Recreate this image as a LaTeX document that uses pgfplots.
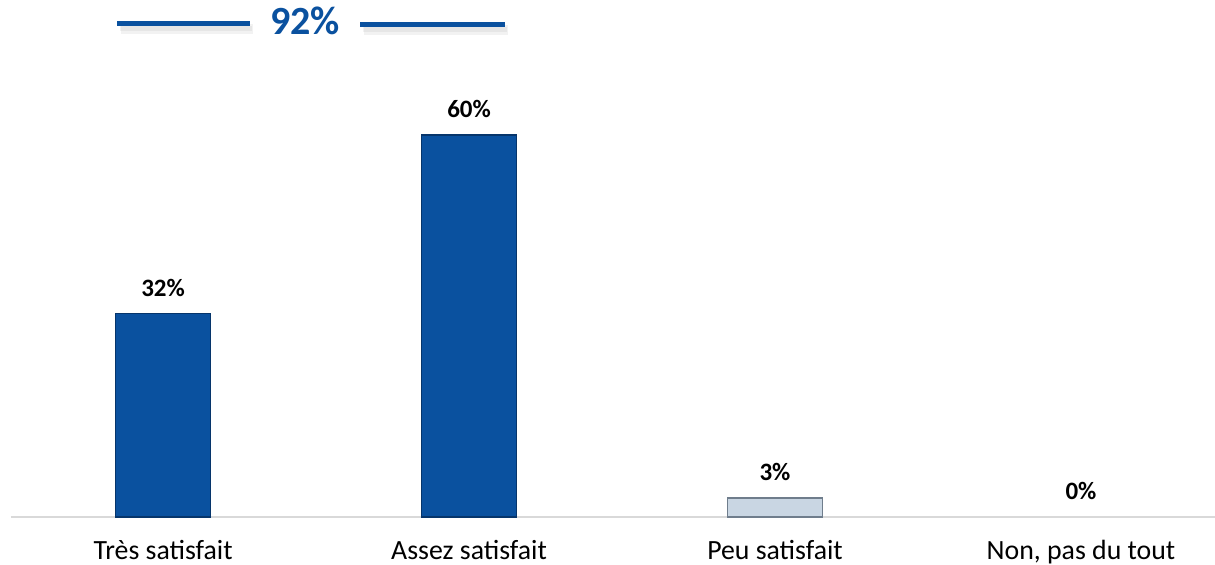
\documentclass[border=0pt]{standalone}
\usepackage{pgfplots}
\pgfplotsset{compat=1.18}
\usepackage{fontspec}
\setmainfont{Carlito}
\definecolor{barblue}{HTML}{0A519F}
\definecolor{bardark}{HTML}{06356B}
\definecolor{barlight}{HTML}{C9D6E3}
\definecolor{barlightedge}{HTML}{6F7D8C}
\definecolor{axisgray}{HTML}{D9D9D9}
\begin{document}
\begin{tikzpicture}[x=0.5pt,y=0.5pt]
\useasboundingbox (0,0) rectangle (1215,564);
\begin{axis}[
  at={(11*0.5pt,47*0.5pt)}, anchor=south west,
  scale only axis, width=602pt, height=254.7pt,
  xmin=-0.497, xmax=3.438, ymin=0, ymax=80,
  axis x line=bottom, axis y line=none,
  x axis line style={axisgray, line width=0.8pt, -},
  xtick={0,1,2,3},
  xticklabels={Très satisfait, Assez satisfait, Peu satisfait, {Non, pas du tout}},
  x tick label style={font=\fontsize{13.9}{16}\selectfont, anchor=base, yshift=-21.3pt, inner sep=0pt},
  major tick length=0pt,
  ybar, bar width=47.5pt, bar shift=0pt,
  clip=false,
  /pgf/number format/assume math mode=true,
  nodes near coords={\pgfmathprintnumber{\pgfplotspointmeta}\%},
  every node near coord/.append style={font=\bfseries\fontsize{12.5}{14}\selectfont, black, anchor=center, yshift=12.8pt},
]
\addplot[fill=barblue, draw=bardark, line width=0.7pt] coordinates {(0,32) (1,60)};
\addplot[fill=barlight, draw=barlightedge, line width=0.7pt] coordinates {(2,3)};
\addplot[draw=none, fill=none] coordinates {(3,0)};
\end{axis}
% 92% header
\draw[black, opacity=0.05, line width=5pt] (121,535) -- (253,535);
\draw[black, opacity=0.05, line width=5pt] (364,534) -- (508,534);
\draw[black, opacity=0.05, line width=2.5pt] (120,536) -- (252,536);
\draw[black, opacity=0.05, line width=2.5pt] (363,535) -- (507,535);
\draw[barblue, line width=2.65pt] (117,540.7) -- (250,540.7);
\draw[barblue, line width=2.65pt] (360,539.5) -- (505,539.5);
\node[font=\bfseries\fontsize{20}{24}\selectfont, text=barblue, inner sep=0pt] at (305,543) {92\%};
\end{tikzpicture}
\end{document}
